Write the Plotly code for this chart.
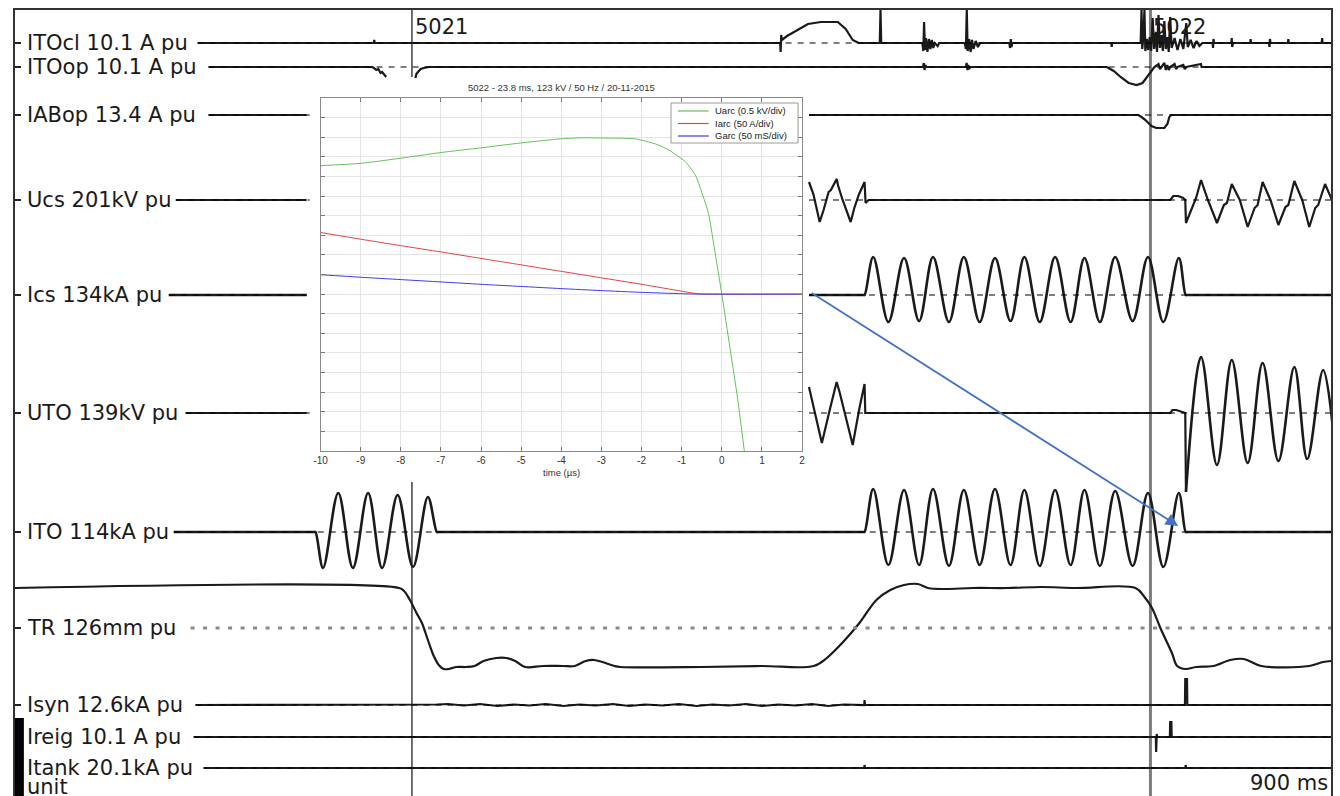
import plotly.graph_objects as go

W, H = 1340, 796
FONT_MAIN = "DejaVu Sans"
FONT_INSET = "Liberation Sans"

# ---------------- main oscillogram: channels ----------------
CH_NAMES = ["ITOcl 10.1 A pu", "ITOop 10.1 A pu", "IABop 13.4 A pu", "Ucs 201kV pu",
            "Ics 134kA pu", "UTO 139kV pu", "ITO 114kA pu", "TR 126mm pu",
            "Isyn 12.6kA pu", "Ireig 10.1 A pu", "Itank 20.1kA pu"]
CH_ROW = [43, 67, 115, 200, 295, 413, 532, 628, 705, 737, 768]
LINE_START = [124.9, 132.4, 132.4, 110.0, 105.2, 116.7, 108.6, 120.1, 123.5, 122.2, 129.0]
GAPPED = [2, 3, 4, 5]          # channels whose trace is hidden behind the inset picture
UNIT_LABEL, UNIT_ROW = "unit", 787
SWEEP_LABEL = "900 ms"
T_END = 900.0

MARK_T = [271.5, 776.5]
MARK_TXT = ["5021", "5022"]

# channel samples: (time ms, deflection, positive = up)
ITOCL = [(124.9, 0), (245.4, 0), (245.7, 3), (246.0, 0), (523.3, 0), (523.6, -9), (524.0, 8),
         (524.4, 3), (528.0, 7), (534.2, 12), (542.3, 19), (551.1, 21), (562.7, 21), (568.1, 14),
         (572.9, 3), (576.9, 0), (591.4, 0), (591.9, 33), (592.4, 0), (620.5, 0), (621.2, -8),
         (621.7, 21), (622.3, -7), (623.0, 5), (624.0, -9), (625.0, 4), (626.0, -6), (627.0, 3),
         (628.0, -5), (629.0, 0), (631.0, -3), (632.0, 0), (649.5, 0), (650.3, -6), (650.9, 33),
         (651.5, -8), (652.5, 4), (653.5, -9), (654.5, 3), (655.5, -6), (657.0, 2), (658.5, -4),
         (660.0, 0), (680.0, 0), (680.5, -5), (681.0, 4), (681.5, -4), (682.0, 0), (749.7, 0),
         (750.0, -4), (750.3, 0), (769.8, 0), (770.4, 33), (770.9, -6), (771.6, 5), (772.4, 33),
         (773.0, -8), (774.0, 4), (775.0, -7), (776.0, 6), (777.0, -8), (778.0, 25), (779.0, -6),
         (780.0, 10), (781.0, -9), (782.0, 28), (783.0, -5), (784.0, 8), (785.0, -8), (786.0, 22),
         (787.0, -6), (788.0, 6), (789.0, -9), (790.0, 26), (791.0, -5), (793.0, 5), (795.0, -7),
         (797.0, 4), (799.0, -6), (801.0, 20), (802.0, -4), (804.0, 3), (806.0, -5), (808.0, 2),
         (810.0, -3), (812.0, 0), (819.0, 0), (819.3, -5), (819.6, 4), (820.0, 0), (831.8, 0),
         (832.1, 5), (832.4, -4), (833.0, 0), (844.7, 0), (845.0, 4), (845.3, 0), (857.6, 0),
         (857.9, -4), (858.2, 4), (858.6, 0), (870.5, 0), (870.8, 4), (871.1, 0), (893.6, 0),
         (893.9, 5), (894.2, 0), (900.0, 0)]
ITOOP = [(132.4, 0), (244.3, 0), (245.5, -1), (247.1, -3), (248.5, -2), (250.0, -6), (251.1, -5),
         (252.5, -8), (253.9, -10), (None, None), (273.9, -11), (274.5, -7), (275.6, -5),
         (277.5, -2), (279.6, -1), (283.0, 0), (621.0, 0), (621.5, 4), (622.0, -3), (622.6, 2),
         (623.2, 0), (650.3, 0), (650.8, 4), (651.4, -3), (652.0, 2), (652.6, -2), (653.2, 0),
         (746.6, 0), (751.4, -4), (756.1, -10), (761.6, -16), (767.0, -18), (771.1, -16),
         (774.5, -9), (777.2, -3), (779.2, 0), (782.0, 3), (783.0, -2), (784.0, 0), (786.0, 4),
         (787.0, -3), (788.0, 2), (789.0, -3), (790.0, 0), (793.0, 3), (794.0, -2), (795.0, 0),
         (799.0, 2), (800.0, -2), (801.0, 0), (811.0, 3), (811.5, 0), (900.0, 0)]
IABOP = [(132.4, 0), (199.5, 0), (None, None), (543.0, 0), (768.3, 0), (770.4, -2), (773.1, -5),
         (777.2, -11), (780.5, -13), (786.0, -13), (788.1, -9), (789.4, -2), (790.8, 0), (900.0, 0)]
UCS = [(110.0, 0), (199.5, 0), (None, None), (543.0, 18), (546.0, 6), (550.3, -22), (553.0, -10),
       (556.4, 8), (558.0, 10), (561.9, 21), (563.0, 14), (566.0, 0), (571.5, -22), (574.0, -8),
       (577.0, 5), (581.0, 18), (581.7, -3), (583.7, 0), (790.1, 0), (792.1, 4), (795.5, 4),
       (798.9, 2), (800.3, 0), (800.8, -23), (805.6, -5), (807.7, 2), (811.1, 20), (815.8, 0),
       (822.0, -23), (826.7, -5), (828.8, -3), (832.1, 16), (837.6, 0), (843.0, -27), (847.7, -8),
       (849.8, -5), (853.2, 18), (858.6, 0), (864.0, -25), (868.8, -7), (870.8, -5), (874.9, 19),
       (880.3, 0), (885.1, -27), (889.2, -8), (891.2, -5), (895.9, 16), (900.0, 2), (903.0, -8)]
ICS = [(105.2, 0), (199.5, 0), (None, None), (543.0, 0), (580.0, 0), (581.0, 0), (586.9, 38),
       (597.3, -27), (608.0, 37), (618.3, -26), (627.8, 38), (638.7, -27), (648.9, 38),
       (659.7, -27), (670.2, 37), (680.8, -26), (690.3, 38), (700.8, -27), (711.3, 38),
       (721.9, -27), (731.4, 37), (741.9, -27), (752.4, 38), (764.3, -26), (774.8, 38),
       (785.3, -27), (795.9, 37), (800.6, 0), (801.6, 0), (900.0, 0)]
UTO = [(116.7, 0), (199.5, 0), (None, None), (543.0, 26), (551.8, -30), (557.5, 5), (559.7, 18),
       (561.9, 31), (563.9, 21), (572.9, -32), (577.5, 5), (579.6, 18), (581.0, 29), (581.5, 0),
       (790.1, 0), (791.5, 3), (794.2, 3), (800.3, 0), (800.8, -79)]
UTO_WAVE = [(800.8, -79), (811.1, 56), (822.0, -52), (832.1, 53), (843.0, -50), (853.2, 50),
            (864.0, -48), (874.9, 46), (883.7, -46), (894.6, 43), (902.7, -37)]
ITO = [(108.6, 0), (204.5, 0), (205.5, 0), (210.7, -36), (221.1, 39), (231.1, -36), (241.5, 39),
       (251.1, -36), (261.7, 37), (272.2, -35), (282.4, 35), (288.5, 0), (289.5, 0), (580.0, 0),
       (581.0, 0), (586.9, 43), (597.3, -33), (608.0, 42), (618.3, -33), (627.8, 43), (638.7, -34),
       (648.9, 42), (659.7, -33), (670.2, 43), (680.8, -33), (690.3, 42), (700.8, -34), (711.3, 42),
       (721.9, -33), (731.4, 42), (741.9, -34), (752.4, 41), (764.3, -34), (774.8, 39),
       (785.3, -35), (795.9, 39), (800.6, 0), (801.6, 0), (900.0, 0)]
TR = [(0.0, 40), (262.7, 40), (266.1, 37), (270.1, 28), (274.6, 15), (278.3, 5), (282.4, -12),
      (286.4, -28), (289.8, -37), (293.2, -41), (296.6, -41), (302.0, -39), (308.1, -39),
      (314.3, -38), (320.4, -33), (329.2, -30), (336.0, -30), (342.1, -33), (348.9, -39),
      (361.1, -38), (374.7, -38), (382.8, -38), (390.3, -33), (396.0, -32), (401.8, -34),
      (410.0, -38), (414.0, -39), (469.7, -39), (510.4, -38), (546.2, -38), (555.2, -30),
      (565.7, -15), (577.5, 5), (589.1, 28), (598.6, 38), (608.0, 43), (617.4, 44), (624.4, 40),
      (636.0, 39), (655.0, 40), (678.5, 40), (701.8, 41), (725.6, 40), (766.3, 40), (772.4, 31),
      (777.2, 21), (783.9, -2), (791.2, -25), (794.8, -38), (800.6, -41), (807.7, -39),
      (819.3, -38), (831.1, -32), (840.3, -31), (852.3, -38), (885.1, -38), (894.6, -34),
      (900.0, -33)]
ISYN = [(123.5, 0), (288.0, 0), (288.5, 0.5), (296.0, 1), (307.0, -0.5), (318.0, 1),
        (330.0, -1), (341.0, 0.5), (352.0, -0.5), (363.0, 1), (375.0, -1), (386.0, 0.5),
        (397.0, -0.5), (409.0, 1), (420.0, -1), (431.0, 0.5), (443.0, -0.5), (454.0, 1),
        (466.0, -1), (477.0, 0.5), (488.0, -0.5), (500.0, 1), (511.0, -1), (522.0, 0.5),
        (534.0, -0.5), (545.0, 1), (556.0, -1), (567.0, 0.5), (575.0, 0), (580.8, 0),
        (581.0, 5), (581.3, 0), (800.1, 0), (800.3, 26), (801.5, 26), (801.7, 0), (900.0, 0)]
IREIG = [(122.2, 0), (780.2, 0), (780.4, -15), (780.8, 3), (781.1, 0), (789.8, 0), (790.0, 15),
         (790.8, 15), (791.0, 0), (900.0, 0)]
ITANK = [(129.0, 0), (580.8, 0), (581.0, 3), (581.3, 0), (800.4, 0), (800.6, 3), (800.9, 0),
         (900.0, 0)]

# ---------------- inset (arc measurement) ----------------
INSET_TITLE = "5022 - 23.8 ms, 123 kV / 50 Hz / 20-11-2015"
INSET_XLABEL = "time (µs)"
INSET_XTICKS = list(range(-10, 3))
INSET_XTICKTEXT = [str(v) for v in INSET_XTICKS]
LEGEND_NAMES = ["Uarc (0.5 kV/div)", "Iarc (50 A/div)", "Garc (50 mS/div)"]
LEGEND_COLORS = ["#63c25a", "#e2453f", "#3b3bee"]
UARC_T = [-10, -9, -8, -7, -6, -5, -4, -3.5, -3, -2.5, -2.2, -1.9, -1.6, -1.32, -1.16, -0.91,
          -0.66, -0.5, -0.33, -0.19, 0.0, 0.2, 0.4, 0.58]
UARC_V = [6.55, 6.67, 6.93, 7.22, 7.46, 7.71, 7.92, 7.97, 7.96, 7.95, 7.93, 7.8, 7.62, 7.35,
          7.13, 6.76, 6.07, 5.2, 4.1, 2.4, 0.0, -2.7, -5.4, -8.3]
IARC_T = [-10, -9, -8, -7, -6, -5, -4, -3, -2, -1, -0.6, 0, 2]
IARC_V = [3.14, 2.8, 2.47, 2.15, 1.82, 1.49, 1.16, 0.83, 0.5, 0.15, 0.02, 0.0, 0.0]
GARC_T = [-10, -9, -8, -7, -6, -5, -4, -3, -2, -1, -0.5, 2]
GARC_V = [0.99, 0.86, 0.74, 0.62, 0.5, 0.39, 0.28, 0.18, 0.09, 0.02, 0.0, 0.0]

# ---------------- geometry (pixels) ----------------
MAIN_L, MAIN_R, MAIN_T = 8, 1334, 10
INSET_ROW_TOP, INSET_ROW_BOT = 77, 482
INSET_GAP_T = (201.6, 543.0)
IN_L, IN_T, IN_R, IN_B = 316, 98, 801, 451
LEG_BOX = (669, 103, 797, 143)
LEG_ROWS = [111, 123.5, 136]


def pxx(x):
    return x / W


def pxy(y):
    return 1 - y / H


def split(points, row):
    xs, ys = [], []
    for t, v in points:
        xs.append(t)
        ys.append(None if v is None else row - v)
    return xs, ys


fig = go.Figure()

# marker lines
fig.add_trace(go.Scatter(x=[MARK_T[0], MARK_T[0], None, MARK_T[0], MARK_T[0]],
                         y=[MAIN_T, INSET_ROW_TOP, None, INSET_ROW_BOT, H],
                         mode="lines", line=dict(color="#111111", width=1.2), hoverinfo="skip"))
fig.add_trace(go.Scatter(x=[MARK_T[1], MARK_T[1]], y=[MAIN_T, H], mode="lines",
                         line=dict(color="#7d7d7d", width=3), hoverinfo="skip"))

SIGNALS = [(ITOCL, 0, "linear"), (ITOOP, 1, "linear"), (IABOP, 2, "linear"), (UCS, 3, "linear"),
           (ICS, 4, "spline"), (UTO, 5, "linear"), (UTO_WAVE, 5, "spline"), (ITO, 6, "spline"),
           (TR, 7, "spline"), (ISYN, 8, "linear"), (IREIG, 9, "linear"), (ITANK, 10, "linear")]
for pts, ci, shape in SIGNALS:
    xs, ys = split(pts, CH_ROW[ci])
    wid = 2.6 if shape == "spline" and ci in (4, 5, 6) else 2.2
    fig.add_trace(go.Scatter(x=xs, y=ys, mode="lines",
                             line=dict(color="#1a1a1a", width=wid, shape=shape),
                             hoverinfo="skip"))

# zero reference lines
for ci, row in enumerate(CH_ROW):
    if ci in GAPPED:
        xs = [LINE_START[ci], INSET_GAP_T[0], None, INSET_GAP_T[1], T_END]
    else:
        xs = [LINE_START[ci], T_END]
    ys = [None if x is None else row for x in xs]
    if CH_NAMES[ci].startswith("TR"):
        ln = dict(color="#8a8a8a", width=3, dash="4px,8.5px")
    else:
        ln = dict(color="#000000", width=1.1, dash="6px,6px")
    fig.add_trace(go.Scatter(x=xs, y=ys, mode="lines", line=ln, hoverinfo="skip"))

# inset traces
for tt, vv, col in zip([UARC_T, IARC_T, GARC_T], [UARC_V, IARC_V, GARC_V], LEGEND_COLORS):
    fig.add_trace(go.Scatter(x=tt, y=vv, mode="lines", xaxis="x2", yaxis="y2",
                             line=dict(color=col, width=1, shape="spline", smoothing=0.6),
                             hoverinfo="skip"))

annotations = []
for name, row in zip(CH_NAMES + [UNIT_LABEL], CH_ROW + [UNIT_ROW]):
    annotations.append(dict(xref="paper", yref="y", x=pxx(18), y=row, xanchor="left",
                            yanchor="middle", text=name, showarrow=False,
                            font=dict(family=FONT_MAIN, size=21, color="#1a1a1a")))
for t, txt in zip(MARK_T, MARK_TXT):
    annotations.append(dict(xref="x", yref="y", x=t, y=27, xanchor="left", yanchor="middle",
                            xshift=1, text=txt, showarrow=False,
                            font=dict(family=FONT_MAIN, size=21, color="#1a1a1a")))
annotations.append(dict(xref="paper", yref="y", x=pxx(1333), y=783, xanchor="right",
                        yanchor="middle", text=SWEEP_LABEL, showarrow=False,
                        font=dict(family=FONT_MAIN, size=21, color="#1a1a1a")))
annotations.append(dict(xref="paper", yref="paper", x=pxx((IN_L + IN_R) / 2), y=pxy(87),
                        xanchor="center", yanchor="middle", text=INSET_TITLE, showarrow=False,
                        font=dict(family=FONT_INSET, size=9.5, color="#333333")))
annotations.append(dict(xref="paper", yref="paper", x=pxx((IN_L + IN_R) / 2), y=pxy(472),
                        xanchor="center", yanchor="middle", text=INSET_XLABEL, showarrow=False,
                        font=dict(family=FONT_INSET, size=9.5, color="#333333")))
for name, r in zip(LEGEND_NAMES, LEG_ROWS):
    annotations.append(dict(xref="paper", yref="paper", x=pxx(711), y=pxy(r), xanchor="left",
                            yanchor="middle", text=name, showarrow=False,
                            font=dict(family=FONT_INSET, size=9.5, color="#222222")))
# arrow from the inset current zero to the ITO current zero
annotations.append(dict(xref="x", yref="y", x=795.5, y=526, ax=-368, ay=-234, text="",
                        showarrow=True, arrowhead=2, arrowsize=1.4, arrowwidth=1.8,
                        arrowcolor="#4472c4", standoff=0))

shapes = [
    dict(type="rect", xref="paper", yref="y", x0=pxx(8), x1=pxx(17), y0=718, y1=H,
         fillcolor="#000000", line=dict(width=0), layer="above"),
    dict(type="rect", xref="paper", yref="paper", x0=pxx(LEG_BOX[0]), x1=pxx(LEG_BOX[2]),
         y0=pxy(LEG_BOX[3]), y1=pxy(LEG_BOX[1]), fillcolor="white",
         line=dict(color="#9a9a9a", width=1), layer="above"),
]
for col, r in zip(LEGEND_COLORS, LEG_ROWS):
    shapes.append(dict(type="line", xref="paper", yref="paper", x0=pxx(676), x1=pxx(707),
                       y0=pxy(r), y1=pxy(r), line=dict(color=col, width=1.2), layer="above"))

fig.update_layout(
    width=W, height=H, margin=dict(l=0, r=0, t=0, b=0),
    paper_bgcolor="white", plot_bgcolor="white", showlegend=False, hovermode=False,
    xaxis=dict(domain=[pxx(MAIN_L), pxx(MAIN_R)], range=[0, T_END], showgrid=False,
               zeroline=False, showticklabels=False, ticks="", showline=True, side="top",
               linecolor="#333333", linewidth=2, fixedrange=True),
    yaxis=dict(domain=[0, pxy(MAIN_T)], range=[H, MAIN_T], showgrid=False, zeroline=False,
               showticklabels=False, ticks="inside", ticklen=6, tickwidth=1.5,
               tickcolor="#222222", tickvals=CH_ROW, showline=True, linecolor="#333333",
               linewidth=2, mirror=True, fixedrange=True),
    xaxis2=dict(domain=[pxx(IN_L), pxx(IN_R)], anchor="y2", range=[-10, 2],
                tickvals=INSET_XTICKS, ticktext=INSET_XTICKTEXT, ticks="inside", ticklen=4,
                tickcolor="#777777", showline=True, linecolor="#8a8a8a", linewidth=1,
                mirror="ticks", showgrid=True, gridcolor="#e4e4e4", gridwidth=1,
                zeroline=False, tickfont=dict(family=FONT_INSET, size=10, color="#333333"),
                fixedrange=True),
    yaxis2=dict(domain=[pxy(IN_B), pxy(IN_T)], anchor="x2", range=[-8, 10], dtick=1,
                ticks="inside", ticklen=4, tickcolor="#777777", showline=True,
                linecolor="#8a8a8a", linewidth=1, mirror="ticks", showgrid=True,
                gridcolor="#e4e4e4", gridwidth=1, zeroline=False, showticklabels=False,
                fixedrange=True),
    annotations=annotations, shapes=shapes,
)

fig.write_html("out.html", config={"displayModeBar": False},
               post_script="document.body.style.margin='0px';document.body.style.overflow='hidden';")
